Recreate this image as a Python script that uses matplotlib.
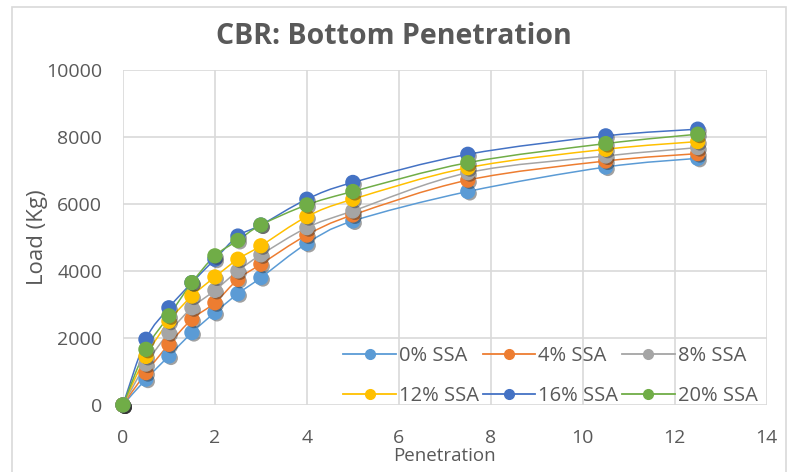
import numpy as np
import matplotlib
matplotlib.use("Agg")
import matplotlib.pyplot as plt
import matplotlib.patheffects as pe
from matplotlib.path import Path
from matplotlib.patches import PathPatch, Rectangle
from matplotlib.lines import Line2D

plt.rcParams['font.family'] = ['Open Sans', 'DejaVu Sans']

# penetration readings and loads for each SSA content
penetration = [0, 0.5, 1, 1.5, 2, 2.5, 3, 4, 5, 7.5, 10.5, 12.5]
labels = ["0% SSA", "4% SSA", "8% SSA", "12% SSA", "16% SSA", "20% SSA"]
load_0 = [0, 770, 1460, 2160, 2760, 3320, 3800, 4820, 5490, 6370, 7100, 7360]
load_4 = [0, 965, 1810, 2560, 3050, 3750, 4200, 5070, 5670, 6710, 7280, 7500]
load_8 = [0, 1220, 2160, 2900, 3420, 4000, 4480, 5290, 5790, 6930, 7430, 7680]
load_12 = [0, 1450, 2500, 3250, 3820, 4350, 4750, 5620, 6140, 7080, 7630, 7860]
load_16 = [0, 1960, 2900, 3650, 4350, 5040, 5370, 6140, 6640, 7480, 8030, 8230]
load_20 = [0, 1660, 2660, 3650, 4450, 4910, 5370, 5970, 6370, 7230, 7800, 8080]
colors = ["#5B9BD5", "#ED7D31", "#A5A5A5", "#FFC000", "#4472C4", "#70AD47"]
grey = "#595959"


def smooth_path(x, y):
    # Catmull-Rom through the points, as cubic Bezier segments
    p = np.column_stack([x, y]).astype(float)
    n = len(p)
    verts = [p[0]]
    codes = [Path.MOVETO]
    for i in range(n - 1):
        p0 = p[i - 1] if i > 0 else p[i]
        p3 = p[i + 2] if i + 2 < n else p[i + 1]
        c1 = p[i] + (p[i + 1] - p0) / 6
        c2 = p[i + 1] - (p3 - p[i]) / 6
        verts += [c1, c2, p[i + 1]]
        codes += [Path.CURVE4] * 3
    return Path(verts, codes)


fig = plt.figure(figsize=(7.88, 4.72), dpi=100)
fig.patches.append(Rectangle((0.015, -0.01), 0.983, 0.995, transform=fig.transFigure,
                             fill=False, edgecolor="#D9D9D9", linewidth=1.2))
ax = fig.add_axes([0.156, 0.142, 0.817, 0.71])

shadow = [pe.SimplePatchShadow(offset=(1.5, -1.5), shadow_rgbFace="#303030", alpha=0.45),
          pe.Normal()]

series = [load_0, load_4, load_8, load_12, load_16, load_20]
handles = []
for vals, col, lab in zip(series, colors, labels):
    ax.add_patch(PathPatch(smooth_path(penetration, vals), fill=False,
                           edgecolor=col, linewidth=1.1, zorder=3))
    ax.plot(penetration, vals, linestyle="none", marker="o", markersize=10,
            color=col, zorder=4, path_effects=shadow, clip_on=False)
    handles.append(Line2D([], [], color=col, linewidth=1.3, marker="o", markersize=7))

ax.set_xlim(0, 14)
ax.set_ylim(0, 10000)
ax.set_xticks(range(0, 15, 2))
ax.set_yticks(range(0, 10001, 2000))
ax.grid(True, color="#D9D9D9", linewidth=1.2)
ax.set_axisbelow(True)
for s in ax.spines.values():
    s.set_visible(False)
ax.tick_params(length=0, labelsize=14, labelcolor=grey)
ax.tick_params(axis="x", pad=17)
ax.tick_params(axis="y", pad=15)

fig.text(0.5, 1 - 37 / 472, "CBR: Bottom Penetration", fontsize=20.5,
         fontweight="bold", color=grey, ha="center", va="center")
ax.set_xlabel("Penetration", fontsize=13.5, color=grey)
ax.xaxis.set_label_coords(0.5, -0.125)
ax.set_ylabel("Load (Kg)", fontsize=16, color=grey)
ax.yaxis.set_label_coords(-0.116, 0.5)

# legend fills row by row: reorder for matplotlib's column-major layout
order = [0, 3, 1, 4, 2, 5]
ax.legend([handles[i] for i in order], [labels[i] for i in order], ncol=3,
          loc="lower right", bbox_to_anchor=(0.995, -0.022), borderaxespad=0,
          borderpad=0.3, frameon=False, fontsize=14.5, labelcolor=grey,
          handlelength=2.6, handletextpad=0.15, columnspacing=0.2, labelspacing=1.0)

fig.savefig("out.png", dpi=100)
